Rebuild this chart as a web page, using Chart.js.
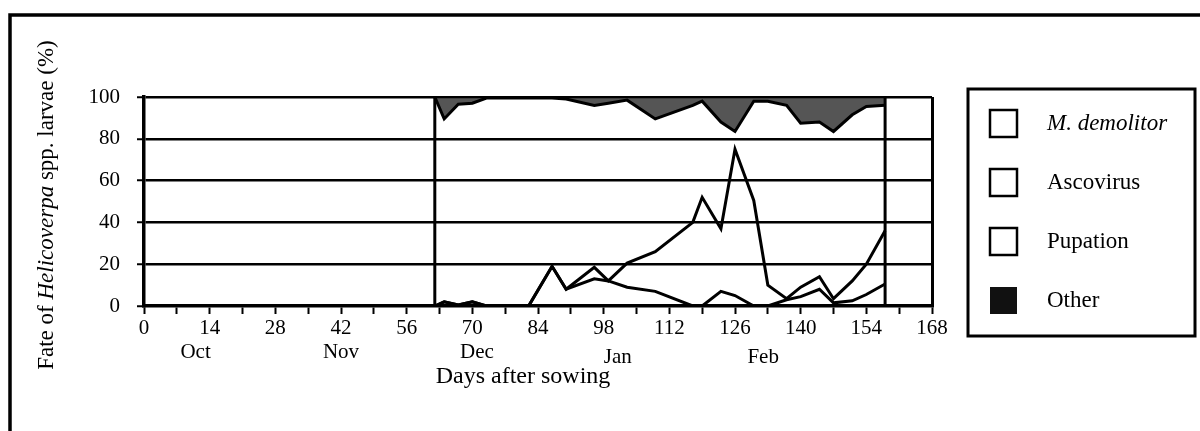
<!DOCTYPE html>
<html>
<head>
<meta charset="utf-8">
<script src="https://cdn.jsdelivr.net/npm/chart.js@4.4.0/dist/chart.umd.min.js"></script>
<style>
  html, body { margin: 0; padding: 0; background: #fff; }
  #wrap { width: 1200px; height: 431px; }
</style>
</head>
<body>
<div id="wrap"><canvas id="canvas" width="1200" height="431"></canvas></div>
<script>
// sampling days (days after sowing) and fate of larvae (%) at each sample
let days      = [62, 64, 67, 70, 73, 82, 87, 90, 96, 99, 103, 109, 117, 119, 123, 126, 130, 133, 137, 140, 144, 147, 151, 154, 158]
let demolitor = [0, 2, 0.5, 2, 0, 0, 19, 8, 13, 12, 9, 7, 0, 0, 7, 5, 0, 0, 3, 4.5, 8, 1.5, 2.5, 5.5, 10.5]
let ascovirus = [0, 0, 0, 0, 0, 0, 0, 0, 5.5, 0, 11.5, 19, 40, 52, 30, 70, 50.5, 10, 0.5, 4.5, 6, 2, 9.5, 14.5, 25.5]
let pupation  = [100, 87.5, 96, 95, 99.5, 99.5, 80.5, 91, 77.5, 85, 78, 63.5, 56, 46, 51, 8.5, 47.5, 88, 92.5, 78.5, 74, 80, 79.5, 75.5, 60]
let other     = [0, 10.5, 3.5, 3, 0.5, 0.5, 0.5, 1, 4, 3, 1.5, 10.5, 4, 2, 12, 16.5, 2, 2, 4, 12.5, 12, 16.5, 8.5, 4.5, 4]

let seriesNames = ['M. demolitor', 'Ascovirus', 'Pupation', 'Other']
let xTickLabels = [0, 14, 28, 42, 56, 70, 84, 98, 112, 126, 140, 154, 168]
let yTickLabels = [0, 20, 40, 60, 80, 100]
let months = ['Oct', 'Nov', 'Dec', 'Jan', 'Feb']
let monthDays = [11, 42, 71, 101, 132]
let xTitle = 'Days after sowing'

let serif = 'Liberation Serif, Times New Roman, serif'
let tickFont = { family: serif, size: 21 }

function pts(values) {
    return days.map((d, i) => ({ x: d, y: values[i] }))
}

let decorPlugin = {
    id: 'decor',
    afterDatasetsDraw(chart) {
        let ctx = chart.ctx
        let xs = chart.scales.x, ys = chart.scales.y
        ctx.save()
        ctx.strokeStyle = '#000'
        ctx.lineWidth = 3
        ;[days[0], days[days.length - 1]].forEach(d => {
            let px = xs.getPixelForValue(d)
            ctx.beginPath()
            ctx.moveTo(px, ys.getPixelForValue(0))
            ctx.lineTo(px, ys.getPixelForValue(100))
            ctx.stroke()
        })
        ctx.restore()
    },
    afterDraw(chart) {
        let ctx = chart.ctx
        let xs = chart.scales.x
        ctx.save()
        ctx.fillStyle = '#000'
        ctx.strokeStyle = '#000'

        // outer frame
        ctx.lineWidth = 3.5
        ctx.beginPath()
        ctx.moveTo(10, 431)
        ctx.lineTo(10, 15)
        ctx.lineTo(1200, 15)
        ctx.stroke()

        // y axis title with italic genus name
        let parts = [['Fate of ', ''], ['Helicoverpa', 'italic '], [' spp. larvae (%)', '']]
        let total = 0
        parts.forEach(p => { ctx.font = p[1] + '23px ' + serif; total += ctx.measureText(p[0]).width })
        ctx.translate(47, 205)
        ctx.rotate(-Math.PI / 2)
        ctx.textBaseline = 'middle'
        ctx.textAlign = 'left'
        let cx = -total / 2
        parts.forEach(p => {
            ctx.font = p[1] + '23px ' + serif
            ctx.fillText(p[0], cx, 0)
            cx += ctx.measureText(p[0]).width
        })
        ctx.setTransform(1, 0, 0, 1, 0, 0)

        // month names under the day ticks
        ctx.font = '21px ' + serif
        ctx.textAlign = 'center'
        months.forEach((m, i) => {
            let drop = i >= 3 ? 5 : 0
            ctx.fillText(m, xs.getPixelForValue(monthDays[i]), 352 + drop)
        })

        // x axis title
        ctx.font = '24px ' + serif
        ctx.fillText(xTitle, 523, 377)

        // legend box
        ctx.lineWidth = 3
        ctx.strokeRect(968, 89, 227, 247)
        ctx.textAlign = 'left'
        seriesNames.forEach((name, i) => {
            let cy = 123.5 + i * 59
            ctx.lineWidth = 2.5
            if (name === 'Other') {
                ctx.fillStyle = '#111'
                ctx.fillRect(990, cy - 13.5, 27, 27)
            } else {
                ctx.strokeRect(990, cy - 13.5, 27, 27)
            }
            ctx.fillStyle = '#000'
            ctx.font = (i === 0 ? 'italic ' : '') + '23px ' + serif
            ctx.fillText(name, 1047, cy)
        })
        ctx.restore()
    }
}

let canvas = document.getElementById('canvas')
let fateChart = new Chart(canvas.getContext('2d'), {
    type: 'line',
    data: {
        datasets: [
            { label: seriesNames[0], data: pts(demolitor), fill: false, borderColor: '#000', borderWidth: 3 },
            { label: seriesNames[1], data: pts(ascovirus), fill: false, borderColor: '#000', borderWidth: 3 },
            { label: seriesNames[2], data: pts(pupation), fill: false, borderColor: '#000', borderWidth: 3 },
            { label: seriesNames[3], data: pts(other), fill: '-1', backgroundColor: '#555', borderColor: '#000', borderWidth: 2.5 }
        ]
    },
    options: {
        responsive: false,
        animation: false,
        devicePixelRatio: 1,
        layout: { padding: { left: 0, right: 268, top: 97, bottom: 0 } },
        elements: { point: { radius: 0 }, line: { tension: 0, borderJoinStyle: 'miter' } },
        plugins: { legend: { display: false }, tooltip: { enabled: false } },
        scales: {
            x: {
                type: 'linear',
                min: 0,
                max: 168,
                afterFit: s => { s.height = 125 },
                ticks: {
                    stepSize: 7,
                    autoSkip: false,
                    maxRotation: 0,
                    padding: 2,
                    color: '#000',
                    font: tickFont,
                    callback: v => xTickLabels.includes(v) ? v : ''
                },
                grid: {
                    color: c => c.tick && c.tick.value === 168 ? '#000' : 'rgba(0,0,0,0)',
                    lineWidth: 3,
                    tickColor: '#000',
                    tickLength: 8,
                    tickWidth: 2
                },
                border: { color: '#000', width: 3.5 }
            },
            y: {
                stacked: true,
                min: 0,
                max: 100,
                afterFit: s => { s.width = 144 },
                ticks: {
                    stepSize: 10,
                    padding: 17,
                    color: '#000',
                    font: tickFont,
                    callback: v => yTickLabels.includes(v) ? v : ''
                },
                grid: {
                    color: c => c.tick && c.tick.value > 0 && c.tick.value % 20 === 0 ? '#000' : 'rgba(0,0,0,0)',
                    lineWidth: 2.5,
                    tickColor: '#000',
                    tickLength: 7,
                    tickWidth: 2
                },
                border: { color: '#000', width: 3.5 }
            }
        }
    },
    plugins: [decorPlugin]
})
</script>
</body>
</html>
